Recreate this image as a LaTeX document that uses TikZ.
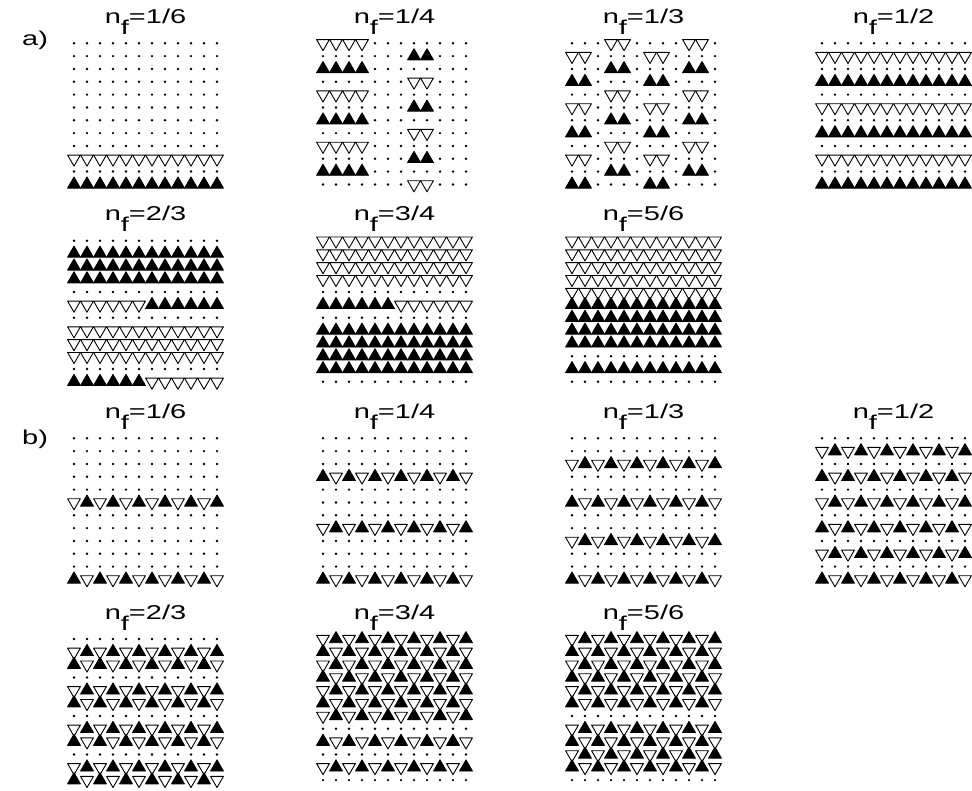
\documentclass[tikz,border=0pt]{standalone}
\usepackage{fontspec}
\setmainfont{Liberation Sans}
\usepackage{graphicx}
\tikzset{
  latu/.pic={\filldraw[black, line width=0.9pt, line join=round] (-6.4,3.7) -- (6.4,3.7) -- (0,-7.4) -- cycle;},
  latd/.pic={\filldraw[fill=white, draw=black, line width=0.9pt, line join=round] (-6.4,-3.7) -- (6.4,-3.7) -- (0,7.4) -- cycle;},
  lato/.pic={\fill[black] (0,0) circle (1.35);},
  ttl/.style={anchor=base, inner sep=0pt, font=\fontsize{20}{24}\selectfont},
  lbl/.style={anchor=base west, inner sep=0pt, font=\fontsize{20}{24}\selectfont}
}
\newcommand\tflab[1]{\scalebox{1.45}[1]{n\raisebox{-0.55em}{f}=#1}}
\newcommand\latpanel[3]{%
  \foreach \rw [count=\r from 0] in {#3} {%
    \pgfmathsetmacro\cy{#2+12.83*\r}%
    \def\cx{#1}%
    \expandafter\latrow\rw\relax
  }}
\def\latrow#1{\ifx#1\relax\else\pic at (\cx,\cy) {lat#1};\pgfmathsetmacro\cx{\cx+13}\expandafter\latrow\fi}
\begin{document}
\begin{tikzpicture}[x=1pt,y=-1pt]
\useasboundingbox[fill=white] (0,0) rectangle (972,791);
\node[lbl] (la) at (22,46) {\scalebox{1.45}[1]{a)}};
\node[lbl] (lb) at (22,444) {\scalebox{1.45}[1]{b)}};
% titles
\node[ttl] (ta1) at (145.5,23.3) {\tflab{1/6}};
\node[ttl] (ta2) at (394.5,23.3) {\tflab{1/4}};
\node[ttl] (ta3) at (643.5,23.3) {\tflab{1/3}};
\node[ttl] (ta4) at (893.5,23.3) {\tflab{1/2}};
\node[ttl] (ta5) at (145.5,220.7) {\tflab{2/3}};
\node[ttl] (ta6) at (394.5,220.7) {\tflab{3/4}};
\node[ttl] (ta7) at (643.5,220.7) {\tflab{5/6}};
\node[ttl] (tb1) at (145.5,418.3) {\tflab{1/6}};
\node[ttl] (tb2) at (394.5,418.3) {\tflab{1/4}};
\node[ttl] (tb3) at (643.5,418.3) {\tflab{1/3}};
\node[ttl] (tb4) at (893.5,418.3) {\tflab{1/2}};
\node[ttl] (tb5) at (145.5,619) {\tflab{2/3}};
\node[ttl] (tb6) at (394.5,619) {\tflab{3/4}};
\node[ttl] (tb7) at (643.5,619) {\tflab{5/6}};
% a) panels
\latpanel{74}{43.3}{oooooooooooo,oooooooooooo,oooooooooooo,oooooooooooo,oooooooooooo,oooooooooooo,oooooooooooo,oooooooooooo,oooooooooooo,dddddddddddd,oooooooooooo,uuuuuuuuuuuu}
\latpanel{323}{43.3}{ddddoooooooo,ooooooouuooo,uuuuoooooooo,oooooooddooo,ddddoooooooo,ooooooouuooo,uuuuoooooooo,oooooooddooo,ddddoooooooo,ooooooouuooo,uuuuoooooooo,oooooooddooo}
\latpanel{572}{43.3}{oooddooooddo,ddooooddoooo,ooouuoooouuo,uuoooouuoooo,oooddooooddo,ddooooddoooo,ooouuoooouuo,uuoooouuoooo,oooddooooddo,ddooooddoooo,ooouuoooouuo,uuoooouuoooo}
\latpanel{822}{43.3}{oooooooooooo,dddddddddddd,oooooooooooo,uuuuuuuuuuuu,oooooooooooo,dddddddddddd,oooooooooooo,uuuuuuuuuuuu,oooooooooooo,dddddddddddd,oooooooooooo,uuuuuuuuuuuu}
\latpanel{74}{240.7}{oooooooooooo,uuuuuuuuuuuu,uuuuuuuuuuuu,uuuuuuuuuuuu,oooooooooooo,dddddduuuuuu,oooooooooooo,dddddddddddd,dddddddddddd,dddddddddddd,oooooooooooo,uuuuuudddddd}
\latpanel{323}{240.7}{dddddddddddd,dddddddddddd,dddddddddddd,dddddddddddd,oooooooooooo,uuuuuudddddd,oooooooooooo,uuuuuuuuuuuu,uuuuuuuuuuuu,uuuuuuuuuuuu,uuuuuuuuuuuu,oooooooooooo}
\latpanel{572}{240.7}{dddddddddddd,dddddddddddd,dddddddddddd,dddddddddddd,dddddddddddd,uuuuuuuuuuuu,uuuuuuuuuuuu,uuuuuuuuuuuu,uuuuuuuuuuuu,oooooooooooo,uuuuuuuuuuuu,oooooooooooo}
% b) panels
\latpanel{74}{438.3}{oooooooooooo,oooooooooooo,oooooooooooo,oooooooooooo,oooooooooooo,dudududududu,oooooooooooo,oooooooooooo,oooooooooooo,oooooooooooo,oooooooooooo,udududududud}
\latpanel{323}{438.3}{oooooooooooo,oooooooooooo,oooooooooooo,udududududud,oooooooooooo,oooooooooooo,oooooooooooo,dudududududu,oooooooooooo,oooooooooooo,oooooooooooo,udududududud}
\latpanel{572}{438.3}{oooooooooooo,oooooooooooo,dudududududu,oooooooooooo,oooooooooooo,udududududud,oooooooooooo,oooooooooooo,dudududududu,oooooooooooo,oooooooooooo,udududududud}
\latpanel{822}{438.3}{oooooooooooo,dudududududu,oooooooooooo,udududududud,oooooooooooo,dudududududu,oooooooooooo,udududududud,oooooooooooo,dudududududu,oooooooooooo,udududududud}
\latpanel{74}{639}{oooooooooooo,dudududududu,udududududud,oooooooooooo,dudududududu,udududududud,oooooooooooo,dudududududu,udududududud,oooooooooooo,dudududududu,udududududud}
\latpanel{323}{639}{dudududududu,udududududud,dudududududu,udududududud,dudududududu,udududududud,dudududududu,oooooooooooo,udududududud,oooooooooooo,dudududududu,oooooooooooo}
\latpanel{572}{639}{dudududududu,udududududud,dudududududu,udududududud,dudududududu,udududududud,oooooooooooo,dudududududu,udududududud,dudududududu,udududududud,oooooooooooo}
\end{tikzpicture}
\end{document}
